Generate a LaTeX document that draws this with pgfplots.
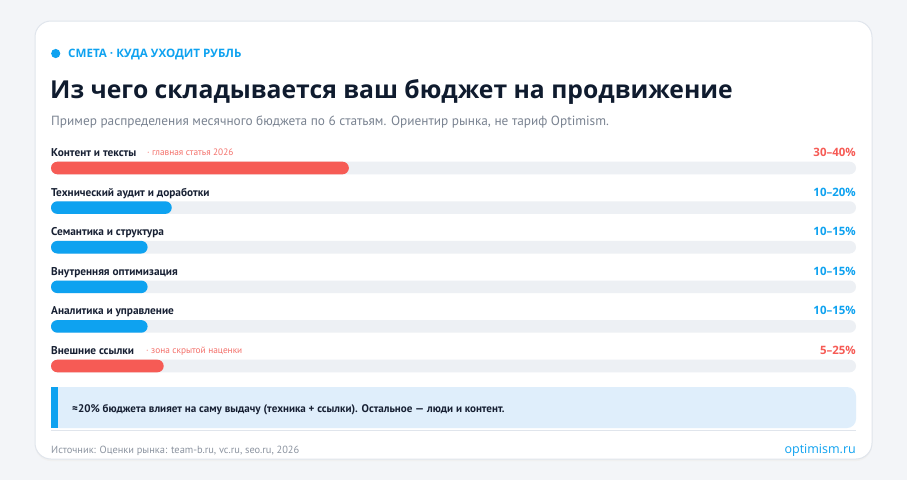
\documentclass[border=0pt]{standalone}
\usepackage{pgfplots}
\pgfplotsset{compat=1.18}
\usepackage{fontspec}
\setmainfont{PT Sans}
\newfontfamily\hfont{Open Sans}
\definecolor{bg}{HTML}{F3F5F8}
\definecolor{cardborder}{HTML}{E0E5EC}
\definecolor{navy}{HTML}{0F1B2E}
\definecolor{sky}{HTML}{0EA2F0}
\definecolor{coral}{HTML}{F65B55}
\definecolor{coralsoft}{HTML}{F4716B}
\definecolor{track}{HTML}{EDF0F4}
\definecolor{grayA}{HTML}{7A8391}
\definecolor{grayB}{HTML}{8C94A0}
\definecolor{callout}{HTML}{DFEEFB}
\definecolor{labeltext}{HTML}{172033}
\begin{document}
\begin{tikzpicture}[x=1pt,y=-1pt]
% background and card
\fill[bg] (0,0) rectangle (907,480);
\fill[black!6,rounded corners=16pt] (35,23) rectangle (872,461);
\filldraw[fill=white,draw=cardborder,line width=1pt,rounded corners=16pt] (35,21) rectangle (872,459);
% header
\fill[sky] (55.7,53.5) circle (4.6);
\node[anchor=base west,inner sep=0,text=sky,font={\hfont\bfseries\fontsize{11.6}{13}\selectfont}] at (68,57.5) {СМЕТА · КУДА УХОДИТ РУБЛЬ};
\node[anchor=base west,inner sep=0,text=navy,font={\hfont\bfseries\fontsize{24.7}{28}\selectfont}] at (50,98.5) {Из чего складывается ваш бюджет на продвижение};
\node[anchor=base west,inner sep=0,text=grayA,font={\fontsize{13.3}{16}\selectfont}] at (51,125.5) {Пример распределения месячного бюджета по 6 статьям. Ориентир рынка, не тариф Optimism.};
% bars
\begin{axis}[at={(51pt,-148.2pt)},anchor=north west,
  width=805pt,height=237.6pt,scale only axis,
  xmin=0,xmax=100,ymin=0.5,ymax=6.5,y dir=reverse,
  hide axis,clip=false]
\addplot[xbar,bar width=12.6pt,bar shift=0pt,fill=track,draw=none,rounded corners=6.3pt]
  coordinates {(100,1) (100,2) (100,3) (100,4) (100,5) (100,6)};
\addplot[xbar,bar width=12.6pt,bar shift=0pt,fill=coral,draw=none,rounded corners=6.3pt]
  coordinates {(37,1) (14,6)};
\addplot[xbar,bar width=12.6pt,bar shift=0pt,fill=sky,draw=none,rounded corners=6.3pt]
  coordinates {(15,2) (12,3) (12,4) (12,5)};
\end{axis}
% row labels
\foreach \y/\lab/\val/\col in {156.5/Контент и тексты/30–40\%/coral,
  196.1/Технический аудит и доработки/10–20\%/sky,
  235.7/Семантика и структура/10–15\%/sky,
  275.3/Внутренняя оптимизация/10–15\%/sky,
  314.9/Аналитика и управление/10–15\%/sky,
  354.5/Внешние ссылки/5–25\%/coral}{
  \node[anchor=base west,inner sep=0,text=labeltext,font={\bfseries\fontsize{11.3}{14}\selectfont}] at (51,\y) {\lab};
  \node[anchor=base east,inner sep=0,text=\col,font={\hfont\bfseries\fontsize{11.5}{13}\selectfont}] at (856,\y) {\val};
}
\node[anchor=base west,inner sep=0,text=coralsoft,font={\fontsize{9.3}{11}\selectfont}] at (147,155.5) {· главная статья 2026};
\node[anchor=base west,inner sep=0,text=coralsoft,font={\fontsize{9.3}{11}\selectfont}] at (146,353.5) {· зона скрытой наценки};
% callout
\fill[callout,rounded corners=9pt] (51,387) rectangle (856,428);
\fill[callout] (51,387) rectangle (70,428);
\fill[sky] (51,387) rectangle (58,428);
\draw[cardborder,line width=1pt] (51,430.5) -- (856,430.5);
\node[anchor=base west,inner sep=0,text=labeltext,font={\bfseries\fontsize{11.05}{14}\selectfont}] at (72,412) {≈20\% бюджета влияет на саму выдачу (техника + ссылки). Остальное — люди и контент.};
% footer
\node[anchor=base west,inner sep=0,text=grayB,font={\fontsize{10.4}{13}\selectfont}] at (51,453) {Источник: Оценки рынка: team-b.ru, vc.ru, seo.ru, 2026};
\node[anchor=base east,inner sep=0,text=sky,font={\hfont\fontsize{12.5}{14}\selectfont}] at (856,453) {optimism.ru};
\end{tikzpicture}
\end{document}
